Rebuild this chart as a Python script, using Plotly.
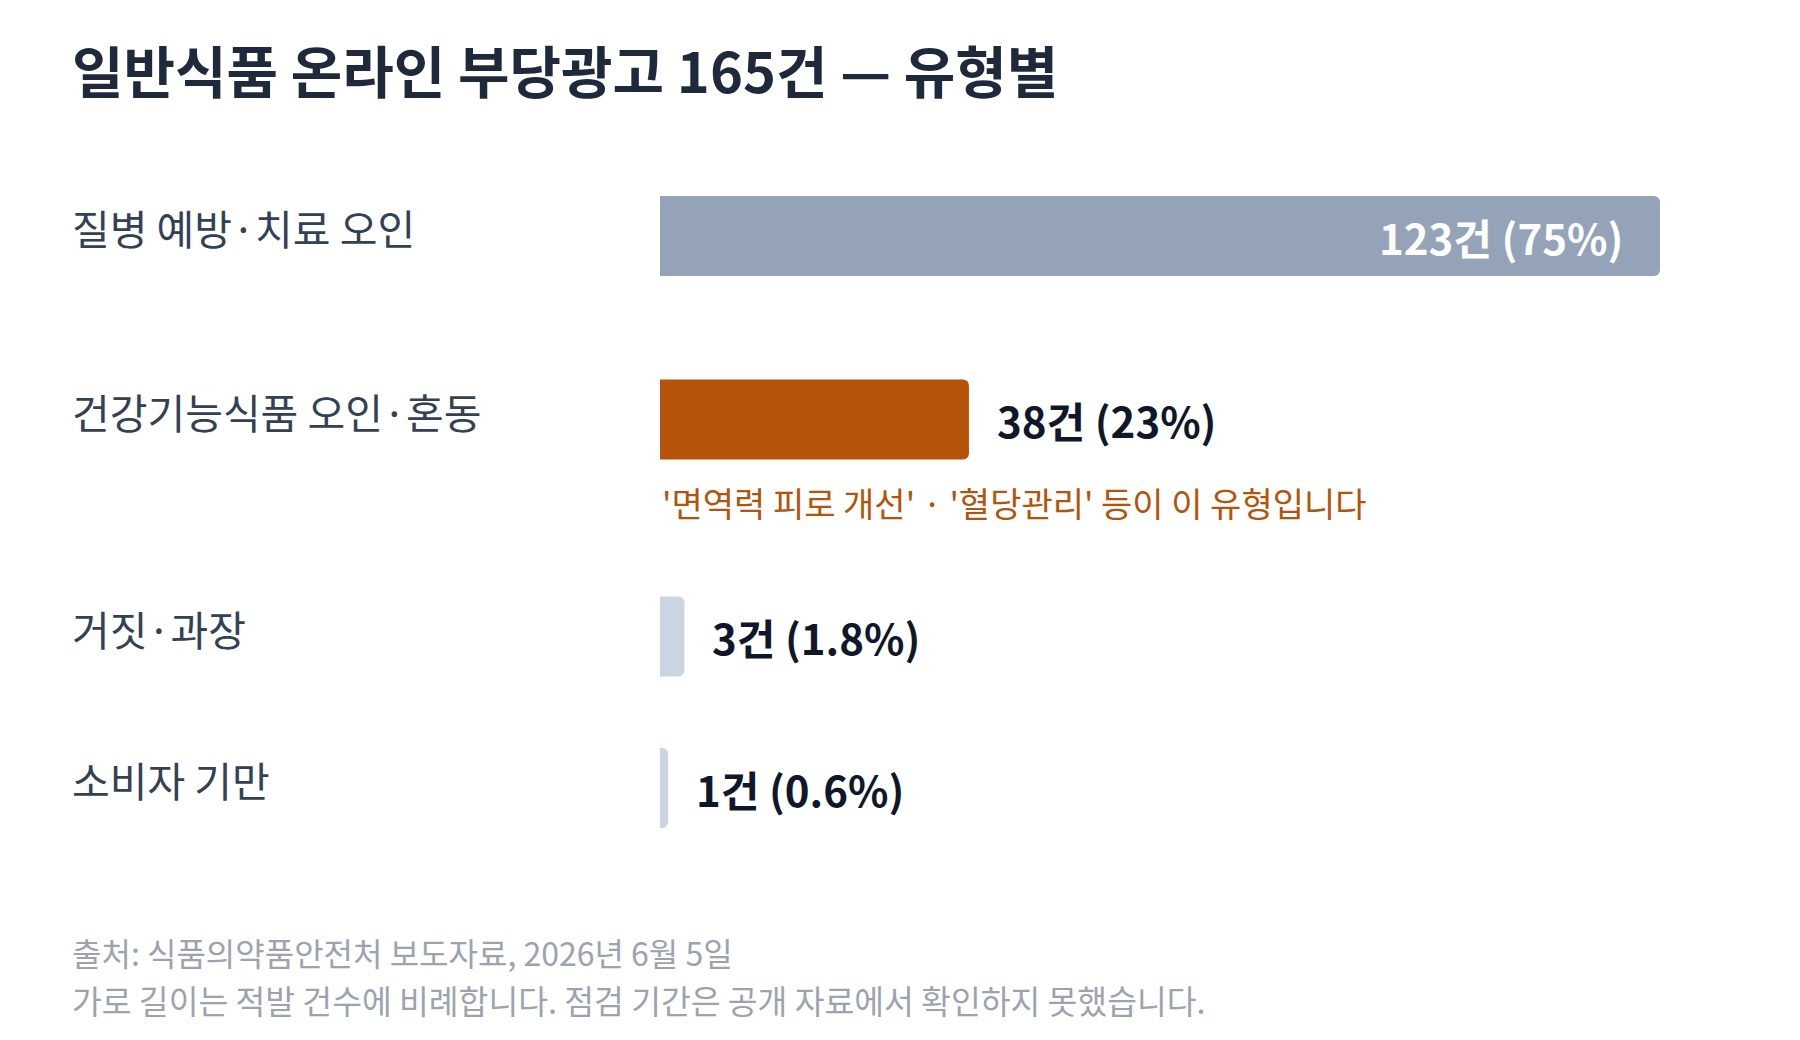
import plotly.graph_objects as go

# ---- data ----
categories = ["질병 예방·치료 오인", "건강기능식품 오인·혼동", "거짓·과장", "소비자 기만"]
counts = [123, 38, 3, 1]
shares = ["75%", "23%", "1.8%", "0.6%"]
note_text = "'면역력 피로 개선' · '혈당관리' 등이 이 유형입니다"
title_text = "일반식품 온라인 부당광고 165건 — 유형별"
source_text = "출처: 식품의약품안전처 보도자료, 2026년 6월 5일"
footnote_text = "가로 길이는 적발 건수에 비례합니다. 점검 기간은 공개 자료에서 확인하지 못했습니다."

# ---- layout / style ----
W, H = 1800, 1040
OFF = 8  # page body margin
FONT = "Noto Sans CJK KR, Noto Sans, sans-serif"
row_centers = [236, 419.5, 636.5, 788]  # vertical layout of rows (page px)
bar_thickness = 80
bar_colors = ["#94a3b8", "#b45309", "#cbd5e1", "#cbd5e1"]
plot_left, plot_right = 660 - OFF, 140 + OFF
text_left = 70

fig = go.Figure()
fig.add_trace(go.Bar(
    x=counts, y=row_centers, orientation="h",
    width=[bar_thickness] * len(counts),
    marker=dict(color=bar_colors, line=dict(width=0)),
    hoverinfo="skip",
))

paper_x0 = (text_left - OFF - plot_left) / (W - plot_left - plot_right)

annotations = []
annotations.append(dict(
    x=paper_x0, y=68, xref="paper", yref="y", text=f"<b>{title_text}</b>",
    showarrow=False, xanchor="left", yanchor="middle",
    font=dict(family=FONT, size=56, color="#1e293b"),
))
for i, (cat, c, s) in enumerate(zip(categories, counts, shares)):
    yc = row_centers[i]
    annotations.append(dict(
        x=paper_x0, y=yc - 9, xref="paper", yref="y", text=cat, showarrow=False,
        xanchor="left", yanchor="middle",
        font=dict(family=FONT, size=41, color="#334155"),
    ))
    label = f"<b>{c}건 ({s})</b>"
    if i == 0:
        annotations.append(dict(
            x=c, y=yc, xref="x", yref="y", text=label, showarrow=False,
            xanchor="right", yanchor="middle", xshift=-35,
            font=dict(family=FONT, size=42, color="#ffffff"),
        ))
    else:
        annotations.append(dict(
            x=c, y=yc, xref="x", yref="y", text=label, showarrow=False,
            xanchor="left", yanchor="middle", xshift=26,
            font=dict(family=FONT, size=42, color="#0f172a"),
        ))
annotations.append(dict(
    x=0, y=502, xref="x", yref="y", text=note_text, showarrow=False,
    xanchor="left", yanchor="middle",
    font=dict(family=FONT, size=34, color="#b45309"),
))
annotations.append(dict(
    x=paper_x0, y=952, xref="paper", yref="y", text=source_text, showarrow=False,
    xanchor="left", yanchor="middle",
    font=dict(family=FONT, size=32, color="#9ca3af"),
))
annotations.append(dict(
    x=paper_x0, y=999, xref="paper", yref="y", text=footnote_text, showarrow=False,
    xanchor="left", yanchor="middle",
    font=dict(family=FONT, size=32.4, color="#9ca3af"),
))

fig.update_layout(
    width=W, height=H,
    margin=dict(l=plot_left, r=plot_right, t=0, b=0, pad=0),
    paper_bgcolor="#ffffff", plot_bgcolor="#ffffff",
    showlegend=False,
    barcornerradius=6,
    xaxis=dict(range=[0, max(counts)], visible=False, fixedrange=True),
    yaxis=dict(range=[H + OFF, OFF], visible=False, fixedrange=True),
    annotations=annotations,
    font=dict(family=FONT),
)

fig.write_html("out.html")
